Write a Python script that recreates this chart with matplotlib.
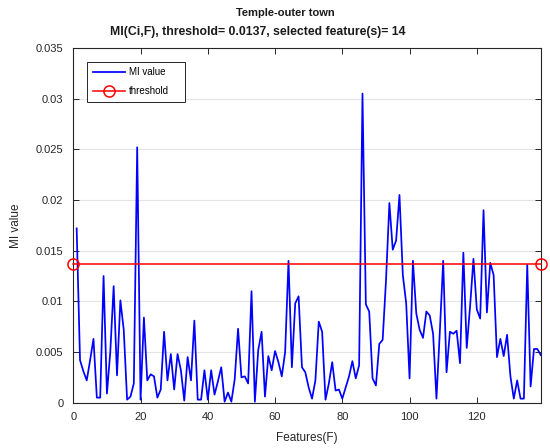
import matplotlib
matplotlib.use("Agg")
import matplotlib.pyplot as plt
from matplotlib.patches import Rectangle
import numpy as np

plt.rcParams['font.family'] = ['Liberation Sans', 'DejaVu Sans']

features = list(range(1, 140))
mi_values = [
    0.0172, 0.0042, 0.0031, 0.0022, 0.0042, 0.0063, 0.0005, 0.0005, 0.0125, 0.0009,
    0.0050, 0.0115, 0.0027, 0.0101, 0.0072, 0.0003, 0.0006, 0.0019, 0.0252, 0.0003,
    0.0084, 0.0022, 0.0028, 0.0026, 0.0005, 0.0013, 0.0070, 0.0022, 0.0048, 0.0013,
    0.0048, 0.0032, 0.0002, 0.0045, 0.0022, 0.0081, 0.0003, 0.0003, 0.0032, 0.0003,
    0.0032, 0.0008, 0.0021, 0.0035, 0.0001, 0.0010, 0.0001, 0.0023, 0.0073, 0.0025,
    0.0026, 0.0019, 0.0110, 0.0001, 0.0052, 0.0070, 0.0006, 0.0046, 0.0032, 0.0051,
    0.0040, 0.0026, 0.0050, 0.0140, 0.0035, 0.0098, 0.0105, 0.0035, 0.0030, 0.0015,
    0.0004, 0.0022, 0.0080, 0.0070, 0.0003, 0.0019, 0.0040, 0.0012, 0.0013, 0.0004,
    0.0015, 0.0026, 0.0041, 0.0024, 0.0037, 0.0305, 0.0097, 0.0090, 0.0024, 0.0017,
    0.0058, 0.0062, 0.0121, 0.0197, 0.0151, 0.0160, 0.0205, 0.0126, 0.0098, 0.0024,
    0.0140, 0.0088, 0.0072, 0.0064, 0.0090, 0.0086, 0.0068, 0.0004, 0.0070, 0.0140,
    0.0030, 0.0070, 0.0068, 0.0071, 0.0039, 0.0148, 0.0054, 0.0095, 0.0142, 0.0092,
    0.0083, 0.0190, 0.0089, 0.0138, 0.0126, 0.0045, 0.0063, 0.0046, 0.0067, 0.0026,
    0.0004, 0.0022, 0.0004, 0.0004, 0.0136, 0.0016, 0.0053, 0.0053, 0.0047,
]
threshold = 0.0137
threshold_x = [0, 139]
x_ticks = [0, 20, 40, 60, 80, 100, 120]
y_ticks = [0, 0.005, 0.01, 0.015, 0.02, 0.025, 0.03, 0.035]
y_tick_labels = ['0', '0.005', '0.01', '0.015', '0.02', '0.025', '0.03', '0.035']

W, H = 550, 448
fig = plt.figure(figsize=(W / 100, H / 100), dpi=100)
L, R, T, B = 73.3, 540.7, 48.0, 402.7
ax = fig.add_axes([L / W, 1 - B / H, (R - L) / W, (B - T) / H])

ax.plot(features, mi_values, color='#0000ff', lw=1.25, label='MI value', zorder=3)
ax.plot(threshold_x, [threshold, threshold], color='#ff0000', lw=1.1, marker='o',
        markersize=8, markerfacecolor='none', markeredgecolor='#ff0000',
        markeredgewidth=1.1, label='threshold', zorder=4, clip_on=False)

ax.set_xlim(0, 139)
ax.set_ylim(0, 0.035)
ax.set_xticks(x_ticks)
ax.set_yticks(y_ticks)
ax.set_yticklabels(y_tick_labels)
ax.yaxis.grid(True, color='#e3e3e3', lw=0.8)
ax.set_axisbelow(True)
ax.tick_params(direction='in', top=True, right=True, labelsize=8, length=4,
               width=0.7, colors='#262626', pad=7)
for s in ax.spines.values():
    s.set_color('#262626')
    s.set_linewidth(0.8)

ax.set_xlabel('Features(F)', fontsize=8.5, color='#262626', labelpad=7)
ax.set_ylabel('MI value', fontsize=8.5, color='#262626', labelpad=10)

fig.text(285 / W, 1 - 12.5 / H, 'Temple-outer town', ha='center',
         va='center', fontsize=8, fontweight='bold', color='#1a1a1a')
fig.text(258 / W, 1 - 32.5 / H,
         'MI(Ci,F), threshold= 0.0137, selected feature(s)= 14', ha='center',
         va='center', fontsize=8.8, fontweight='bold', color='#1a1a1a')

# legend box (MATLAB-like, extra right padding)
bx0, bx1, by0, by1 = 87, 185, 62, 102
ax.add_patch(Rectangle((bx0 / W, 1 - by1 / H), (bx1 - bx0) / W, (by1 - by0) / H,
                       transform=fig.transFigure, facecolor='white',
                       edgecolor='#262626', lw=0.7, zorder=5, clip_on=False))
leg = ax.legend(loc='upper left', bbox_to_anchor=((bx0 + 1 - L) / (R - L), (B - by0) / (B - T)),
                fontsize=7, frameon=False, handlelength=3.3, borderpad=0.55,
                labelspacing=0.9, handletextpad=0.35, borderaxespad=0)
leg.set_zorder(6)

fig.savefig('out.png', dpi=100, facecolor='white')
